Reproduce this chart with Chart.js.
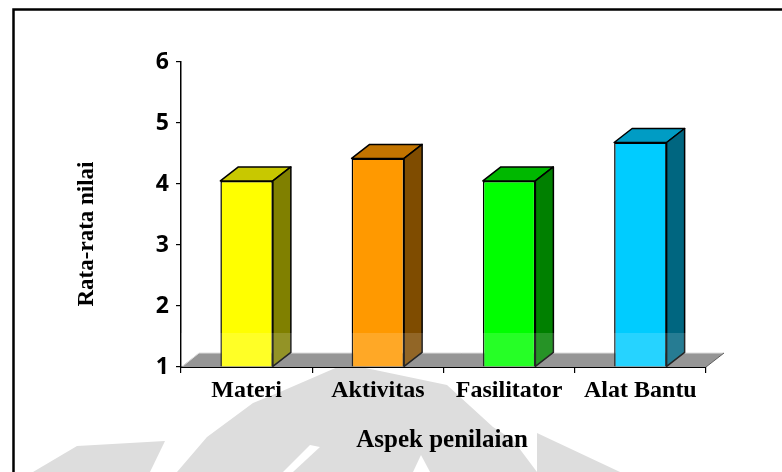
<!DOCTYPE html>
<html>
<head>
<meta charset="utf-8">
<script src="https://cdn.jsdelivr.net/npm/chart.js@4"></script>
<style>
  body { margin: 0; background: #fff; }
  #wrap { width: 782px; height: 472px; }
</style>
</head>
<body>
<div id="wrap"><canvas id="chart" width="782" height="472"></canvas></div>
<script>
const categories = ['Materi', 'Aktivitas', 'Fasilitator', 'Alat Bantu'];
const values = [4.05, 4.42, 4.05, 4.68];
const yTicks = [1, 2, 3, 4, 5, 6];
const frontColors = ['#FFFF00', '#FF9900', '#00FF00', '#00CCFF'];
const topColors = ['#C8C800', '#C27400', '#00B800', '#009CC4'];
const sideColors = ['#808000', '#7F4C00', '#008000', '#006680'];
const xTitle = 'Aspek penilaian';
const yTitle = 'Rata-rata nilai';

const DX = 18, DY = 14; // depth of the 3d look

function poly(ctx, pts) {
    ctx.beginPath();
    ctx.moveTo(pts[0][0], pts[0][1]);
    pts.slice(1).forEach(p => ctx.lineTo(p[0], p[1]));
    ctx.closePath();
    ctx.fill();
}

// watermark behind the chart (faint logo shape)
const watermark = {
    id: 'watermark',
    beforeDraw(chart) {
        const ctx = chart.ctx;
        ctx.save();
        ctx.fillStyle = '#dddddd';
        poly(ctx, [[177, 472], [207, 437], [253, 403], [280, 392], [340, 366], [356, 366],
                   [447, 385], [493, 427], [513, 440], [537, 472]]);
        poly(ctx, [[33, 472], [77, 446], [165, 441], [150, 472]]);
        poly(ctx, [[537, 433], [620, 472], [537, 472]]);
        ctx.fillStyle = '#fff';
        poly(ctx, [[310, 445], [320, 447], [293, 472], [283, 472]]);
        poly(ctx, [[421, 455], [430, 472], [413, 472]]);
        ctx.restore();
    }
};

const bars3d = {
    id: 'bars3d',
    beforeDatasetsDraw(chart) {
        const ctx = chart.ctx;
        const a = chart.chartArea;
        ctx.save();
        ctx.fillStyle = '#848484';
        ctx.beginPath();
        ctx.moveTo(a.left, a.bottom);
        ctx.lineTo(a.left + DX, a.bottom - DY);
        ctx.lineTo(a.right + DX, a.bottom - DY);
        ctx.lineTo(a.right, a.bottom);
        ctx.closePath();
        ctx.fill();
        ctx.strokeStyle = '#d8d8d8';
        ctx.lineWidth = 1;
        ctx.beginPath();
        ctx.moveTo(a.left + 2, a.bottom - 1);
        ctx.lineTo(a.left + DX, a.bottom - DY);
        ctx.lineTo(a.right + DX, a.bottom - DY);
        ctx.stroke();
        ctx.strokeStyle = '#444';
        ctx.beginPath();
        ctx.moveTo(a.right + DX, a.bottom - DY);
        ctx.lineTo(a.right, a.bottom);
        ctx.stroke();
        ctx.restore();
    },
    afterDatasetsDraw(chart) {
        const ctx = chart.ctx;
        const a = chart.chartArea;
        ctx.save();
        ctx.strokeStyle = '#000';
        ctx.lineWidth = 1.5;
        ctx.lineJoin = 'round';
        chart.getDatasetMeta(0).data.forEach((bar, i) => {
            const l = bar.x - bar.width / 2, r = bar.x + bar.width / 2;
            const t = bar.y, b = bar.base;
            ctx.fillStyle = topColors[i];
            ctx.beginPath();
            ctx.moveTo(l, t);
            ctx.lineTo(l + DX, t - DY);
            ctx.lineTo(r + DX, t - DY);
            ctx.lineTo(r, t);
            ctx.closePath();
            ctx.fill();
            ctx.stroke();
            ctx.fillStyle = sideColors[i];
            ctx.beginPath();
            ctx.moveTo(r, t);
            ctx.lineTo(r + DX, t - DY);
            ctx.lineTo(r + DX, b - DY);
            ctx.lineTo(r, b);
            ctx.closePath();
            ctx.fill();
            ctx.stroke();
        });
        // faint light band of the page watermark
        ctx.fillStyle = 'rgba(255,255,255,0.15)';
        ctx.fillRect(a.left, 333, a.right - a.left + DX + 4, a.bottom - 333);
        ctx.restore();
    },
    afterDraw(chart) {
        const ctx = chart.ctx;
        ctx.save();
        // frame
        ctx.strokeStyle = '#000';
        ctx.lineWidth = 2.5;
        ctx.beginPath();
        ctx.moveTo(13.5, 472);
        ctx.lineTo(13.5, 9.5);
        ctx.lineTo(782, 9.5);
        ctx.stroke();
        // axis titles
        ctx.fillStyle = '#000';
        ctx.textAlign = 'center';
        ctx.textBaseline = 'alphabetic';
        ctx.font = 'bold 25px "Liberation Serif", serif';
        ctx.fillText(xTitle, 442, 447);
        ctx.font = 'bold 23px "Liberation Serif", serif';
        ctx.translate(92.5, 234);
        ctx.rotate(-Math.PI / 2);
        ctx.fillText(yTitle, 0, 0);
        ctx.restore();
    }
};

new Chart(document.getElementById('chart').getContext('2d'), {
    type: 'bar',
    data: {
        labels: categories,
        datasets: [{
            data: values,
            base: 1,
            backgroundColor: frontColors,
            borderColor: '#000',
            borderWidth: 1.5,
            barPercentage: 0.4,
            categoryPercentage: 1
        }]
    },
    options: {
        responsive: false,
        animation: false,
        layout: { padding: { left: 0, right: 76, top: 62, bottom: 0 } },
        plugins: { legend: { display: false }, tooltip: { enabled: false } },
        scales: {
            x: {
                afterFit: s => { s.height = 105; },
                grid: { drawOnChartArea: false, tickLength: 6, color: '#000', lineWidth: 1.2 },
                border: { color: '#000', width: 2 },
                ticks: {
                    color: '#000',
                    padding: 3,
                    maxRotation: 0,
                    font: { family: '"Liberation Serif", serif', weight: 'bold', size: 24 }
                }
            },
            y: {
                min: yTicks[0],
                max: yTicks[yTicks.length - 1],
                afterFit: s => { s.width = 181; },
                afterBuildTicks: s => { s.ticks = yTicks.map(v => ({ value: v })); },
                grid: { drawOnChartArea: false, tickLength: 5, color: '#000', lineWidth: 1.2 },
                border: { color: '#000', width: 1.5 },
                ticks: {
                    color: '#000',
                    padding: 7,
                    font: { family: '"Noto Sans", sans-serif', weight: 'bold', size: 23 }
                }
            }
        }
    },
    plugins: [watermark, bars3d]
});
</script>
</body>
</html>
